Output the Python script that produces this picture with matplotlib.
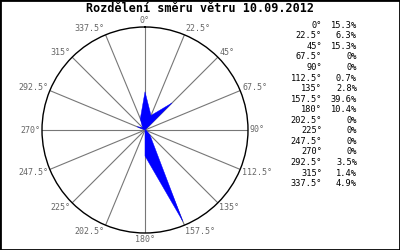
import numpy as np
import matplotlib.pyplot as plt
from matplotlib.patches import Rectangle

# wind direction distribution (degrees, percent)
directions = [0, 22.5, 45, 67.5, 90, 112.5, 135, 157.5,
              180, 202.5, 225, 247.5, 270, 292.5, 315, 337.5]
percent = [15.3, 6.3, 15.3, 0, 0, 0.7, 2.8, 39.6,
           10.4, 0, 0, 0, 0, 3.5, 1.4, 4.9]
title = 'Rozdělení směru větru 10.09.2012'

r_max = 41.2
mono = 'DejaVu Sans Mono'
grey = '#666666'

fig = plt.figure(figsize=(4, 2.5), dpi=100)
ax = fig.add_axes([0.105, 0.068, 0.515, 0.824], projection='polar')
ax.set_theta_zero_location('N')
ax.set_theta_direction(-1)
ax.set_rlim(0, r_max)
ax.set_yticks([])
ax.set_thetagrids(directions, labels=[''] * len(directions))
ax.grid(True, color='#777777', lw=0.8)
ax.spines['polar'].set_color('black')
ax.spines['polar'].set_linewidth(1.0)

theta = np.deg2rad(directions)
ax.fill(np.append(theta, theta[0]), np.append(percent, percent[0]),
        color='#0000ff', lw=0.3, zorder=3)

# angle labels around the circle
for d, t in zip(directions, theta):
    s, c = np.sin(t), np.cos(t)
    if abs(s) < 0.01:
        ha = 'center'
    elif s > 0:
        ha = 'left'
    else:
        ha = 'right'
    ax.annotate(f'{d:g}°', xy=(t, r_max), xytext=(2 * s, 7 * c),
                textcoords='offset pixels', ha=ha, va='center',
                fontsize=6, family=mono, color=grey)

fig.text(0.5, 1 - 9 / 250, title, ha='center', va='center',
         fontsize=8.5, fontweight='bold', family=mono)

# legend column
for i, (d, p) in enumerate(zip(directions, percent)):
    y = 1 - (25.3 + i * 10.55) / 250
    fig.text(322 / 400, y, f'{d:g}°', ha='right', va='center',
             fontsize=6.2, family=mono)
    fig.text(357 / 400, y, f'{p:g}%', ha='right', va='center',
             fontsize=6.2, family=mono)

fig.patches.append(Rectangle((0, 0), 1, 1, transform=fig.transFigure,
                             fill=False, edgecolor='black', lw=2))

fig.savefig('out.png', dpi=100)
